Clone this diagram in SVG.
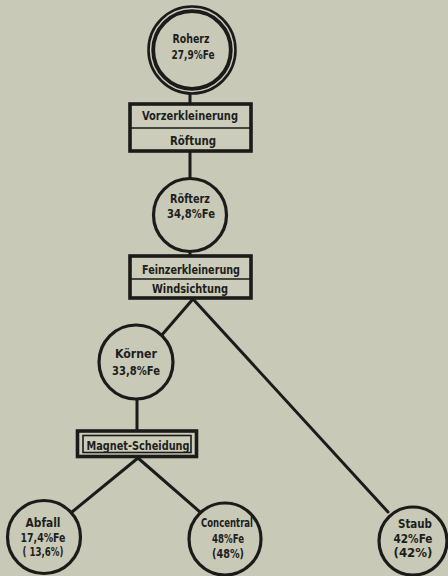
<svg xmlns="http://www.w3.org/2000/svg" width="448" height="576" viewBox="0 0 448 576">
<style>
.bg{fill:#c8c9b7}
.c{fill:#c8c9b7;stroke:#1b1b1a;stroke-width:3.2}
.b{fill:#cbccba;stroke:#1b1b1a;stroke-width:3.6}
.thin{fill:none;stroke:#1b1b1a;stroke-width:1.6}
.ln{stroke:#1b1b1a;stroke-width:3;fill:none;stroke-linecap:round}
text{font-family:"DejaVu Sans Condensed","DejaVu Sans","Liberation Sans",sans-serif;font-stretch:condensed;font-weight:bold;font-size:12.5px;fill:#1e1e1c;text-anchor:middle}
</style>
<rect class="bg" x="0" y="0" width="448" height="576"/>
<g id="connectors">
<line class="ln" x1="190" y1="92" x2="190" y2="103"/>
<line class="ln" x1="190" y1="152" x2="190" y2="178"/>
<line class="ln" x1="190" y1="252" x2="190" y2="256"/>
<line class="ln" x1="193" y1="299" x2="161" y2="336"/>
<line class="ln" x1="193" y1="299" x2="388" y2="512"/>
<line class="ln" x1="137" y1="399" x2="137" y2="430"/>
<line class="ln" x1="138" y1="458" x2="72" y2="512"/>
<line class="ln" x1="138" y1="458" x2="200" y2="512"/>
</g>
<g id="roherz">
<circle cx="192" cy="50" r="43.5" fill="#c8c9b7" stroke="#1b1b1a" stroke-width="2.6"/>
<circle cx="192" cy="50" r="38.8" fill="#c8c9b7" stroke="#1b1b1a" stroke-width="3.8"/>
<text x="191" y="43" textLength="37" lengthAdjust="spacingAndGlyphs">Roherz</text>
<text x="193" y="59" textLength="43" lengthAdjust="spacingAndGlyphs">27,9%Fe</text>
</g>
<g id="box1">
<rect class="b" x="130" y="104" width="121" height="47"/>
<line class="thin" x1="130" y1="128" x2="251" y2="128"/>
<text x="190" y="120" textLength="96" lengthAdjust="spacingAndGlyphs">Vorzerkleinerung</text>
<text x="193" y="145" textLength="46" lengthAdjust="spacingAndGlyphs">Röftung</text>
</g>
<g id="roesterz">
<circle class="c" cx="190" cy="215" r="36.5"/>
<text x="190" y="203" textLength="40" lengthAdjust="spacingAndGlyphs">Röfterz</text>
<text x="191" y="218" textLength="48" lengthAdjust="spacingAndGlyphs">34,8%Fe</text>
</g>
<g id="box2">
<rect class="b" x="130" y="256" width="121" height="42"/>
<line class="thin" x1="130" y1="279" x2="251" y2="279"/>
<text x="191" y="274" textLength="98" lengthAdjust="spacingAndGlyphs">Feinzerkleinerung</text>
<text x="190" y="293" textLength="76" lengthAdjust="spacingAndGlyphs">Windsichtung</text>
</g>
<g id="koerner">
<circle class="c" cx="136" cy="362" r="37"/>
<text x="136" y="358" textLength="42" lengthAdjust="spacingAndGlyphs">Körner</text>
<text x="136" y="375" textLength="48" lengthAdjust="spacingAndGlyphs">33,8%Fe</text>
</g>
<g id="box3">
<rect class="b" x="77.5" y="431" width="119" height="25.5"/>
<rect class="thin" x="83" y="435.5" width="108" height="17"/>
<text x="138" y="449.5" textLength="103" lengthAdjust="spacingAndGlyphs">Magnet-Scheidung</text>
</g>
<g id="abfall">
<circle class="c" cx="44" cy="537" r="36.5"/>
<text x="43" y="527" textLength="35" lengthAdjust="spacingAndGlyphs">Abfall</text>
<text x="43" y="542" textLength="45" lengthAdjust="spacingAndGlyphs">17,4%Fe</text>
<text x="43" y="556" textLength="41" lengthAdjust="spacingAndGlyphs">( 13,6%)</text>
</g>
<g id="concentrat">
<circle class="c" cx="225" cy="539" r="36"/>
<text x="227" y="527" textLength="52" lengthAdjust="spacingAndGlyphs">Concentral</text>
<text x="228" y="543" textLength="32" lengthAdjust="spacingAndGlyphs">48%Fe</text>
<text x="228" y="558" textLength="32" lengthAdjust="spacingAndGlyphs">(48%)</text>
</g>
<g id="staub">
<circle class="c" cx="413" cy="541" r="34"/>
<text x="415" y="528" textLength="34" lengthAdjust="spacingAndGlyphs">Staub</text>
<text x="413" y="543" textLength="39" lengthAdjust="spacingAndGlyphs">42%Fe</text>
<text x="413" y="557" textLength="39" lengthAdjust="spacingAndGlyphs">(42%)</text>
</g>
</svg>
